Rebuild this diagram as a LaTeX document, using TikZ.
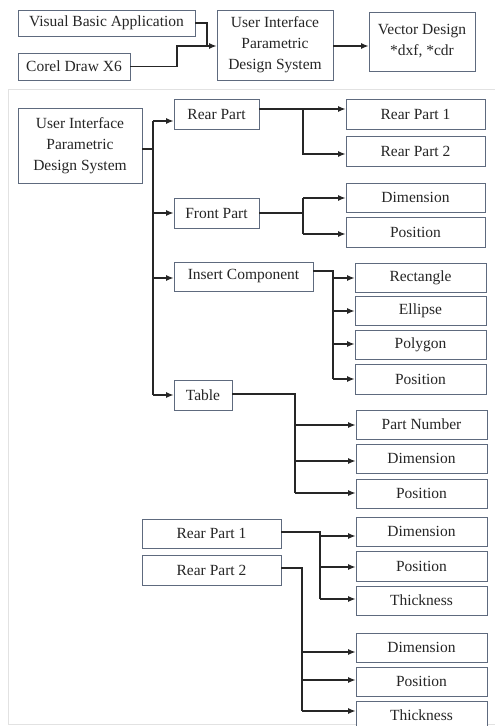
\documentclass[tikz,border=0pt]{standalone}
\usepackage{fontspec}
\setmainfont{Liberation Serif}
\usetikzlibrary{arrows.meta,calc}
\definecolor{boxc}{HTML}{5E6A7E}
\definecolor{framec}{HTML}{E2E2E2}
\begin{document}
\begin{tikzpicture}[x=1pt,y=-1pt,
  box/.style={draw=boxc,line width=0.9pt,fill=white,inner sep=0pt,align=center,
    font=\fontsize{15.5}{21}\selectfont,text=black!85},
  sz/.style 2 args={minimum width=#1pt,minimum height=#2pt},
  conn/.style={line width=1.1pt,draw=black!85},
  arr/.style={conn,-{Latex[length=7.5pt,width=6pt]}}]
\useasboundingbox (0,0) rectangle (495,726);
\fill[white] (0,0) rectangle (495,726);
\draw[framec,line width=1pt] (8,89) rectangle (505,724);

% top row
\node[box,sz={177}{26}] (vba) at (106.5,23) {Visual Basic Application};
\node[box,sz={112}{27}] (corel) at (74,66.5) {Corel Draw X6};
\node[box,sz={116}{70}] (ui1) at (275,45) {User Interface\\Parametric\\Design System};
\node[box,sz={106}{59}] (vec) at (422,41.5) {Vector Design\\*dxf, *cdr};

\coordinate (j0) at (207,46);
\coordinate (c0) at (177,46);
\draw[conn] (vba.east) -| (j0);
\draw[conn] (corel.east) -| (c0) -- (j0);
\draw[arr] (j0) -- (j0 -| ui1.west);
\draw[arr] (ui1.east |- j0) -- (j0 -| vec.west);

% lower tree
\node[box,sz={124}{75}] (ui2) at (80,145.5) {User Interface\\Parametric\\Design System};
\node[box,sz={85}{30}] (rear) at (216.5,114) {Rear Part};
\node[box,sz={85}{30}] (front) at (216.5,213) {Front Part};
\node[box,sz={139}{29}] (insert) at (243.5,276.5) {Insert Component};
\node[box,sz={58}{30}] (table) at (203,395) {Table};

\node[box,sz={139}{30}] (rp1) at (415.5,114) {Rear Part 1};
\node[box,sz={139}{30}] (rp2) at (415.5,151) {Rear Part 2};
\node[box,sz={139}{29}] (fdim) at (415.5,197.5) {Dimension};
\node[box,sz={139}{30}] (fpos) at (415.5,232) {Position};

\node[box,sz={131}{29}] (rect) at (420.5,277.5) {Rectangle};
\node[box,sz={131}{29}] (ell) at (420.5,310.5) {Ellipse};
\node[box,sz={131}{29}] (poly) at (420.5,344.5) {Polygon};
\node[box,sz={131}{30}] (ipos) at (420.5,379) {Position};

\node[box,sz={131}{29}] (pn) at (421.5,424.5) {Part Number};
\node[box,sz={131}{29}] (tdim) at (421.5,458.5) {Dimension};
\node[box,sz={131}{29}] (tpos) at (421.5,493.5) {Position};

\node[box,sz={139}{29}] (lrp1) at (211.5,533.5) {Rear Part 1};
\node[box,sz={139}{30}] (lrp2) at (211.5,570) {Rear Part 2};

\node[box,sz={131}{29}] (d1) at (421.5,531.5) {Dimension};
\node[box,sz={131}{30}] (p1) at (421.5,566) {Position};
\node[box,sz={131}{29}] (k1) at (421.5,600.5) {Thickness};
\node[box,sz={131}{29}] (d2) at (421.5,647.5) {Dimension};
\node[box,sz={131}{29}] (p2) at (421.5,681.5) {Position};
\node[box,sz={131}{29}] (k2) at (421.5,715.5) {Thickness};

% trunk from UI
\coordinate (t0) at (153,149);
\coordinate (t1) at (153,121);
\coordinate (t2) at (153,213);
\coordinate (t3) at (153,278);
\coordinate (t4) at (153,395);
\draw[conn] (ui2.east |- t0) -- (t0);
\draw[conn] (t1) -- (t4);
\draw[arr] (t1) -- (t1 -| rear.west);
\draw[arr] (t2) -- (t2 -| front.west);
\draw[arr] (t3) -- (t3 -| insert.west);
\draw[arr] (t4) -- (t4 -| table.west);

% rear part
\coordinate (r0) at (303,109);
\coordinate (r1) at (303,154);
\draw[conn] (rear.east |- r0) -- (r0);
\draw[arr] (r0) -- (r0 -| rp1.west);
\draw[arr] (r0) -- (r1) -- (r1 -| rp2.west);

% front part
\coordinate (f0) at (303,213);
\coordinate (f1) at (303,198);
\coordinate (f2) at (303,234);
\draw[conn] (front.east |- f0) -- (f0);
\draw[conn] (f1) -- (f2);
\draw[arr] (f1) -- (f1 -| fdim.west);
\draw[arr] (f2) -- (f2 -| fpos.west);

% insert component
\coordinate (i0) at (333,271);
\coordinate (i1) at (333,278);
\coordinate (i2) at (333,311);
\coordinate (i3) at (333,344);
\coordinate (i4) at (333,379);
\draw[conn] (insert.east |- i0) -- (i0) -- (i4);
\draw[arr] (i1) -- (i1 -| rect.west);
\draw[arr] (i2) -- (i2 -| ell.west);
\draw[arr] (i3) -- (i3 -| poly.west);
\draw[arr] (i4) -- (i4 -| ipos.west);

% table
\coordinate (b0) at (295,394);
\coordinate (b1) at (295,425);
\coordinate (b2) at (295,461);
\coordinate (b3) at (295,493);
\draw[conn] (table.east |- b0) -- (b0) -- (b3);
\draw[arr] (b1) -- (b1 -| pn.west);
\draw[arr] (b2) -- (b2 -| tdim.west);
\draw[arr] (b3) -- (b3 -| tpos.west);

% lower rear part 1
\coordinate (l0) at (320,532);
\coordinate (l1) at (320,536);
\coordinate (l2) at (320,567);
\coordinate (l3) at (320,599);
\draw[conn] (lrp1.east |- l0) -- (l0) -- (l3);
\draw[arr] (l1) -- (l1 -| d1.west);
\draw[arr] (l2) -- (l2 -| p1.west);
\draw[arr] (l3) -- (l3 -| k1.west);

% lower rear part 2
\coordinate (m0) at (302,568);
\coordinate (m1) at (302,652);
\coordinate (m2) at (302,680);
\coordinate (m3) at (302,711);
\draw[conn] (lrp2.east |- m0) -- (m0) -- (m3);
\draw[arr] (m1) -- (m1 -| d2.west);
\draw[arr] (m2) -- (m2 -| p2.west);
\draw[arr] (m3) -- (m3 -| k2.west);
\end{tikzpicture}
\end{document}
